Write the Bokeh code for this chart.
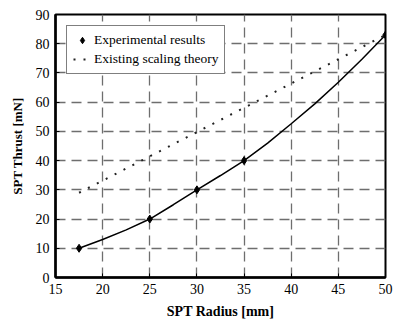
from bokeh.plotting import figure
from bokeh.models import Range1d, FixedTicker, Legend, LegendItem
from bokeh.embed import file_html
from bokeh.resources import INLINE

# Experimental results (markers)
exp_radius = [17.5, 25, 30, 35, 50]
exp_thrust = [10, 20, 30, 40, 83]

# Smooth curve through the experimental results
curve_radius = [17.5, 20, 22.5, 25, 27.5, 30, 32.5, 35, 37.5, 40, 42.5, 45, 47.5, 50]
curve_thrust = [10, 13.0, 16.3, 20, 24.9, 30, 34.9, 40, 46.0, 52.6, 59.4, 66.8, 74.7, 83]

# Existing scaling theory
theory_radius = [17.5, 50]
theory_thrust = [29, 83]

x_ticks = [15, 20, 25, 30, 35, 40, 45, 50]
y_ticks = [0, 10, 20, 30, 40, 50, 60, 70, 80, 90]

FONT = "Liberation Serif"

p = figure(width=395, height=322, output_backend="svg", toolbar_location=None,
           x_range=Range1d(15, 50), y_range=Range1d(0, 90),
           min_border_left=55, min_border_right=10, min_border_top=14, min_border_bottom=45)
p.frame_width = 330
p.frame_height = 263

p.outline_line_color = "black"
p.outline_line_width = 2
p.background_fill_color = "white"
p.border_fill_color = "white"

p.xaxis.ticker = FixedTicker(ticks=x_ticks)
p.yaxis.ticker = FixedTicker(ticks=y_ticks)
p.xgrid.ticker = FixedTicker(ticks=x_ticks)
p.ygrid.ticker = FixedTicker(ticks=y_ticks)

p.axis.major_label_text_font = FONT
p.axis.major_label_text_font_size = "14px"
p.axis.major_label_text_color = "black"
p.axis.axis_label_text_font = FONT
p.axis.axis_label_text_font_style = "bold"
p.axis.axis_label_text_color = "black"
p.axis.axis_line_width = 2.5
p.axis.axis_line_color = "black"
p.axis.major_tick_in = 4
p.axis.major_tick_out = 0
p.axis.major_tick_line_width = 1
p.axis.minor_tick_line_color = None
p.axis.major_label_standoff = 6

p.xaxis.axis_label = "SPT Radius [mm]"
p.yaxis.axis_label = "SPT Thrust [mN]"
p.xaxis.axis_label_text_font_size = "14px"
p.yaxis.axis_label_text_font_size = "13px"
p.xaxis.axis_label_standoff = 7
p.yaxis.axis_label_standoff = 8

p.grid.grid_line_color = "#6e6e6e"
p.grid.grid_line_alpha = 1.0
p.grid.grid_line_dash = "10 6"
p.grid.grid_line_width = 1.3

curve = p.line(curve_radius, curve_thrust, line_color="black", line_width=1.5)
pts = p.scatter(exp_radius, exp_thrust, marker="diamond", size=8,
                fill_color="black", line_color="black")
theory = p.line(theory_radius, theory_thrust, line_color="#222222", line_width=2,
                line_dash="2 8")

legend = Legend(items=[
    LegendItem(label="Experimental results", renderers=[pts]),
    LegendItem(label="Existing scaling theory", renderers=[theory]),
])
legend.location = "top_left"
legend.margin = 11
legend.padding = 6
legend.spacing = 3
legend.label_height = 16
legend.glyph_height = 16
legend.glyph_width = 18
legend.label_standoff = 3
legend.label_text_font = FONT
legend.label_text_font_size = "13.5px"
legend.label_text_color = "black"
legend.border_line_color = "black"
legend.border_line_width = 1.5
legend.background_fill_alpha = 1
p.add_layout(legend, "center")

open("out.html", "w").write(file_html(p, INLINE))
